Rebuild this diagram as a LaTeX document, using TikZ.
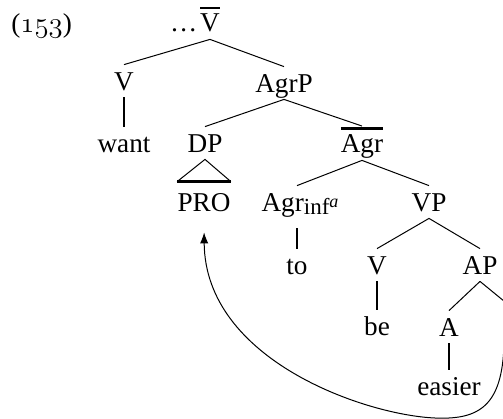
\documentclass[tikz,border=0pt]{standalone}
\usepackage{amsmath}
\usepackage{fontspec}
\setmainfont{Liberation Serif}
\usetikzlibrary{arrows.meta,calc}
\newcommand\ovl[1]{\leavevmode\vbox{\hrule height 1.1pt\kern 2.2pt\hbox{#1}}}
\newcommand\osf[1]{{\usefont{OML}{cmm}{m}{it}#1}}
\newcommand\agrsub[1]{\raisebox{-1.6pt}{\fontsize{11.5}{12}\selectfont #1}}
\newcommand\agrsup[1]{\raisebox{3.2pt}{\fontsize{9}{10}\selectfont\itshape #1}}
\begin{document}
\begin{tikzpicture}[x=0.5pt,y=-0.5pt,
  every node/.style={font=\fontsize{13.6}{16}\selectfont},
  tn/.style={anchor=base,inner sep=3.5pt,text height=9pt,text depth=0pt},
  bn/.style={anchor=base,inner ysep=0.5pt,inner xsep=3.5pt,text depth=3.5pt},
  br/.style={line width=0.5pt},
  vl/.style={line width=1.2pt},
  mv/.style={line width=0.5pt,-{Latex[length=5.5pt,width=4.2pt]}}]
\useasboundingbox (0,0) rectangle (503,418);
\node[anchor=base west,inner sep=0pt] (ex) at (11,32) {(\osf{153})};
\node[bn] (vbar) at (210,31) {\ovl{V}};
\node[anchor=base east,inner sep=0pt] (dots) at ($(vbar.base west)+(5,0)$) {\ldots};
\node[tn] (v1) at (124,90) {V};
\node[tn] (want) at (124,152) {want};
\node[tn] (agrp) at (284,92) {AgrP};
\node[tn] (dp) at (205,152) {DP};
\node[bn] (agrbar) at (362,152) {\ovl{Agr}};
\node[tn] (pro) at (204,211) {PRO};
\node[tn] (agrinf) at (300,211) {Agr\agrsub{inf\agrsup{a}}};
\node[tn] (vp) at (429,211) {VP};
\node[tn] (to) at (297,274) {to};
\node[tn] (v2) at (377,274) {V};
\node[tn] (ap) at (480,274) {AP};
\node[tn] (be) at (377,335) {be};
\node[tn] (a) at (449,336) {A};
\node[tn] (easier) at (449,395) {easier};
\coordinate (apr) at (510,306);
\coordinate (cstart) at (504,345);
\draw[br] (vbar.south) -- (v1.north);
\draw[br] (vbar.south) -- (agrp.north);
\draw[vl] (v1.south) -- (want.north);
\draw[br] (agrp.south) -- (dp.north);
\draw[br] (agrp.south) -- (agrbar.north);
\draw[br] ($(pro.north west)+(7,-4)$) -- (dp.south) -- ($(pro.north east)+(-7,-4)$);
\draw[vl] ($(pro.north west)+(7,-4)$) -- ($(pro.north east)+(-7,-4)$);
\draw[br] (agrbar.south) -- ($(agrinf.north)+(-3,0)$);
\draw[br] (agrbar.south) -- (vp.north);
\draw[vl] ($(agrinf.south)+(-3,10)$) -- (to.north);
\draw[br] (vp.south) -- (v2.north);
\draw[br] (vp.south) -- (ap.north);
\draw[vl] (v2.south) -- (be.north);
\draw[br] (ap.south) -- (a.north);
\draw[br] (ap.south) -- (apr);
\draw[vl] (a.south) -- (easier.north);
\draw[mv,shorten >=7pt] (cstart) .. controls (502,405) and (480,420) .. (435,418)
  .. controls (365,415) and (205,360) .. (pro.south);
\end{tikzpicture}
\end{document}
